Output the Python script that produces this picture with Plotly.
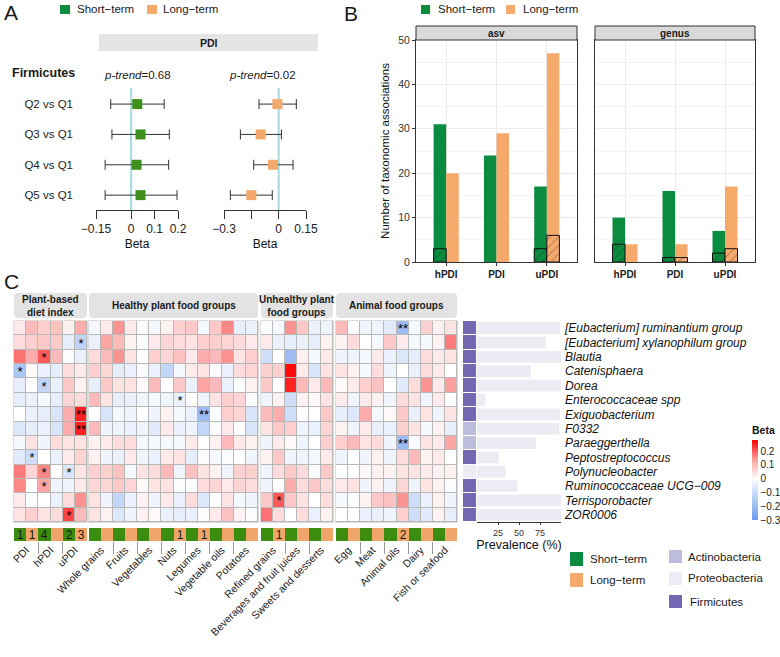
import plotly.graph_objects as go

W, H = 780, 657
FONT = "Arial, Liberation Sans, sans-serif"

# ---------------- Panel A data ----------------
quartiles = ['Q2 vs Q1', 'Q3 vs Q1', 'Q4 vs Q1', 'Q5 vs Q1']
short_beta = [0.026, 0.040, 0.023, 0.040]
short_lo = [-0.087, -0.082, -0.111, -0.111]
short_hi = [0.141, 0.163, 0.160, 0.196]
long_beta = [-0.007, -0.099, -0.031, -0.150]
long_lo = [-0.108, -0.210, -0.137, -0.265]
long_hi = [0.097, 0.015, 0.079, -0.035]
p_trend = ['0.68', '0.02']

# ---------------- Panel B data ----------------
indices = ['hPDI', 'PDI', 'uPDI']
asv_short = [31, 24, 17]
asv_long = [20, 29, 47]
asv_short_hatch = [3, 0, 3]
asv_long_hatch = [0, 0, 6]
genus_short = [10, 16, 7]
genus_long = [4, 4, 17]
genus_short_hatch = [4, 1, 2]
genus_long_hatch = [0, 1, 3]

# ---------------- Panel C data ----------------
taxa = ['[Eubacterium] ruminantium group', '[Eubacterium] xylanophilum group', 'Blautia',
        'Catenisphaera', 'Dorea', 'Enterococcaceae spp', 'Exiguobacterium', 'F0332',
        'Paraeggerthella', 'Peptostreptococcus', 'Polynucleobacter',
        'Ruminococcaceae UCG\u2212009', 'Terrisporobacter', 'ZOR0006']
phylum = ['Firmicutes', 'Firmicutes', 'Firmicutes', 'Firmicutes', 'Firmicutes', 'Firmicutes',
          'Firmicutes', 'Actinobacteria', 'Actinobacteria', 'Firmicutes', 'Proteobacteria',
          'Firmicutes', 'Firmicutes', 'Firmicutes']
prevalence = [99, 82, 100, 64, 100, 10, 99, 98, 70, 26, 34, 48, 100, 100]

group_titles = ['Plant-based<br>diet index', 'Healthy plant food groups',
                'Unhealthy plant<br>food groups', 'Animal food groups']
foods_index = ['PDI', 'hPDI', 'uPDI']
foods_healthy = ['Whole grains', 'Fruits', 'Vegetables', 'Nuts', 'Legumes', 'Vegetable oils', 'Potatoes']
foods_unhealthy = ['Refined grains', 'Beverages and fruit juices', 'Sweets and desserts']
foods_animal = ['Egg', 'Meat', 'Animal oils', 'Dairy', 'Fish or seafood']

# columns: each food -> [Short-term, Long-term]
beta_index = [
    [0.03, 0.10, 0.07, 0.09, 0.02, 0.12],
    [0.05, 0.07, 0.08, 0.08, -0.05, -0.13],
    [0.18, 0.12, 0.20, 0.10, -0.01, -0.04],
    [-0.17, 0.01, -0.04, -0.05, 0.05, 0.03],
    [-0.05, 0.00, -0.12, -0.04, 0.08, 0.02],
    [-0.05, -0.04, -0.02, -0.05, 0.06, 0.05],
    [0.00, -0.04, -0.05, -0.08, 0.12, 0.25],
    [-0.07, -0.05, -0.04, -0.08, 0.12, 0.25],
    [-0.02, 0.04, -0.03, 0.05, 0.04, 0.04],
    [-0.06, -0.10, 0.00, -0.04, 0.03, 0.06],
    [0.17, 0.06, 0.16, 0.00, -0.08, 0.04],
    [0.16, 0.00, 0.13, -0.03, -0.03, 0.03],
    [0.03, -0.01, 0.00, -0.04, 0.05, 0.15],
    [0.04, 0.07, 0.04, 0.05, 0.22, 0.10],
]
beta_healthy = [
    [-0.02, 0.03, 0.15, 0.03, -0.01, -0.02, 0.02, 0.07, 0.08, -0.02, 0.08, 0.16, -0.05, -0.04],
    [-0.04, 0.13, 0.10, 0.02, -0.01, 0.03, 0.06, 0.05, 0.04, 0.07, 0.07, 0.06, 0.05, 0.03],
    [0.05, 0.10, 0.15, 0.04, 0.00, 0.07, 0.06, 0.09, 0.03, 0.12, 0.10, 0.15, 0.04, 0.07],
    [0.07, 0.06, -0.05, -0.04, -0.01, -0.04, -0.12, -0.02, 0.03, 0.04, -0.01, -0.04, 0.05, 0.06],
    [-0.05, 0.08, 0.04, 0.04, 0.01, 0.10, 0.00, 0.08, -0.04, 0.13, 0.10, -0.04, -0.01, 0.02],
    [0.10, 0.04, -0.05, -0.04, -0.03, -0.02, -0.03, -0.04, 0.00, -0.03, 0.04, 0.07, 0.06, -0.01],
    [0.00, -0.08, -0.02, -0.03, 0.00, -0.03, 0.02, -0.02, -0.04, -0.20, -0.01, 0.07, 0.06, -0.08],
    [0.10, -0.03, -0.03, -0.04, -0.03, -0.06, 0.03, -0.04, -0.03, -0.12, -0.01, 0.03, 0.00, -0.08],
    [0.02, 0.03, 0.05, 0.05, -0.02, -0.02, -0.02, -0.02, 0.03, 0.00, 0.02, 0.10, 0.03, 0.02],
    [0.02, -0.03, -0.04, 0.03, -0.03, -0.04, 0.03, 0.04, -0.05, -0.01, -0.02, -0.01, 0.00, -0.03],
    [0.07, 0.07, 0.09, -0.02, 0.04, 0.05, 0.10, -0.03, 0.09, 0.04, 0.02, -0.03, 0.07, 0.07],
    [0.06, 0.06, 0.08, 0.06, 0.01, 0.04, 0.04, -0.01, 0.00, 0.05, 0.06, 0.03, 0.06, 0.05],
    [0.04, -0.03, -0.12, -0.04, 0.02, -0.03, 0.03, -0.04, 0.05, -0.07, 0.00, 0.04, -0.02, -0.03],
    [0.04, 0.02, -0.07, -0.03, 0.02, 0.01, -0.04, -0.05, -0.04, -0.01, 0.03, 0.09, 0.02, -0.01],
]
beta_unhealthy = [
    [-0.01, -0.02, 0.15, 0.08, -0.04, -0.03],
    [0.03, -0.04, -0.05, -0.04, -0.05, 0.02],
    [-0.10, 0.00, -0.20, 0.02, -0.02, 0.03],
    [0.07, 0.07, 0.27, 0.03, -0.08, 0.04],
    [0.08, 0.00, 0.25, 0.10, 0.03, 0.10],
    [-0.03, 0.02, -0.10, 0.02, 0.01, 0.04],
    [0.10, 0.12, -0.10, 0.00, 0.00, 0.08],
    [0.04, 0.08, 0.07, -0.03, -0.04, 0.06],
    [-0.03, 0.03, 0.01, -0.03, 0.00, 0.07],
    [0.02, 0.08, -0.03, -0.03, -0.02, 0.03],
    [-0.03, 0.05, 0.08, 0.05, -0.01, 0.08],
    [-0.03, 0.00, 0.12, 0.05, 0.08, 0.05],
    [0.08, 0.20, 0.08, 0.04, 0.00, 0.05],
    [0.18, 0.05, 0.00, 0.05, -0.04, 0.02],
]
beta_animal = [
    [0.10, 0.00, -0.03, -0.03, -0.06, -0.20, -0.02, 0.07, 0.02, 0.04],
    [0.02, 0.05, 0.00, -0.02, 0.08, 0.03, -0.02, -0.02, 0.02, 0.17],
    [-0.03, -0.03, -0.02, 0.03, -0.04, -0.07, -0.05, 0.05, 0.03, 0.04],
    [0.04, 0.02, -0.02, 0.05, -0.03, 0.00, -0.04, 0.05, 0.03, 0.00],
    [0.01, 0.03, 0.07, 0.09, 0.00, -0.06, 0.05, 0.15, 0.03, 0.14],
    [0.03, -0.03, 0.03, 0.02, -0.03, 0.05, 0.04, -0.03, 0.03, 0.00],
    [-0.05, -0.07, 0.12, -0.02, 0.01, 0.08, -0.04, 0.04, -0.03, 0.04],
    [0.02, -0.03, 0.03, -0.04, -0.04, 0.07, 0.04, -0.02, 0.02, -0.05],
    [0.07, 0.10, 0.04, 0.05, -0.03, -0.20, -0.01, 0.04, 0.03, 0.13],
    [-0.03, 0.00, -0.03, 0.02, -0.03, 0.05, 0.10, 0.02, 0.03, 0.00],
    [0.00, 0.00, 0.01, 0.02, 0.02, 0.04, 0.04, 0.03, 0.02, 0.02],
    [0.03, 0.04, -0.03, 0.02, -0.03, 0.06, -0.03, 0.04, 0.02, -0.01],
    [-0.02, -0.01, 0.02, 0.08, 0.09, 0.15, -0.10, -0.04, 0.02, -0.03],
    [0.00, 0.00, -0.04, -0.04, -0.03, 0.07, -0.10, -0.06, 0.02, -0.05],
]
# significance marks: (taxon row, column within block, mark)
stars_index = [(1, 5, '*'), (2, 2, '*'), (3, 0, '*'), (4, 2, '*'), (6, 5, '**'), (7, 5, '**'),
               (9, 1, '*'), (10, 2, '*'), (10, 4, '*'), (11, 2, '*'), (13, 4, '*')]
stars_healthy = [(5, 7, '*'), (6, 9, '**')]
stars_unhealthy = [(12, 1, '*')]
stars_animal = [(0, 5, '**'), (8, 5, '**')]

# ---------------- colours ----------------
GREEN = '#0B8B3F'
ORANGE = '#F5A96A'
GREEN_PT = '#3F8F1C'
ORANGE_PT = '#F3A86D'
ANN_GREEN = '#3C8C10'
ANN_ORANGE = '#F0A66A'
PHY_COL = {'Firmicutes': '#7467B1', 'Actinobacteria': '#BDBCDC', 'Proteobacteria': '#EDECF5'}
ZMIN, ZMAX = -0.3, 0.28
z0 = -ZMIN / (ZMAX - ZMIN)
CSCALE = [[0, '#6A9BEE'], [z0 * 0.5, '#B5CCF5'], [z0, '#FFFFFF'],
          [z0 + (1 - z0) * 0.5, '#FB9E9E'], [1, '#FF0000']]


def xdom(a, b):
    return [a / W, b / W]


def ydom(a, b):
    return [1 - b / H, 1 - a / H]


def PX(x):
    return x / W


def PY(y):
    return 1 - y / H


fig = go.Figure()
shapes = []
annots = []


def text(x, y, s, size=11, xanchor='left', bold=False, color='#1A1A1A'):
    annots.append(dict(x=PX(x), y=PY(y), xref='paper', yref='paper', text=(f'<b>{s}</b>' if bold else s),
                       showarrow=False, xanchor=xanchor, yanchor='middle',
                       font=dict(size=size, color=color, family=FONT)))


def square(x0, y0, x1, y1, color):
    shapes.append(dict(type='rect', xref='paper', yref='paper', x0=PX(x0), x1=PX(x1), y0=PY(y1), y1=PY(y0),
                       fillcolor=color, line=dict(width=0)))


def rrect(x0, y0, x1, y1, r, fill, line=None):
    f = lambda x, y: f"{x / W:.5f},{1 - y / H:.5f}"
    p = ("M" + f(x0 + r, y0) + " L" + f(x1 - r, y0) + " Q" + f(x1, y0) + " " + f(x1, y0 + r) +
         " L" + f(x1, y1 - r) + " Q" + f(x1, y1) + " " + f(x1 - r, y1) + " L" + f(x0 + r, y1) +
         " Q" + f(x0, y1) + " " + f(x0, y1 - r) + " L" + f(x0, y0 + r) + " Q" + f(x0, y0) + " " +
         f(x0 + r, y0) + " Z")
    shapes.append(dict(type='path', path=p, xref='paper', yref='paper', fillcolor=fill,
                       line=dict(width=0) if line is None else line, layer='below'))


# ================= Panel A =================
for ax, vals, lo, hi, col in [('', short_beta, short_lo, short_hi, GREEN_PT),
                              ('2', long_beta, long_lo, long_hi, ORANGE_PT)]:
    fig.add_trace(go.Scatter(
        x=vals, y=quartiles, mode='markers',
        marker=dict(symbol='square', size=10, color=col, line=dict(width=0)),
        error_x=dict(type='data', symmetric=False,
                     array=[h - v for h, v in zip(hi, vals)],
                     arrayminus=[v - l for v, l in zip(vals, lo)],
                     color='#333333', thickness=1, width=5),
        xaxis='x' + ax, yaxis='y' + ax, hoverinfo='skip'))
    shapes.append(dict(type='line', xref='x' + ax, yref=('y' + ax) + ' domain', x0=0, x1=0, y0=0, y1=1,
                       line=dict(color='#A6D8DC', width=2), layer='below'))

ya_common = dict(type='category', categoryorder='array', categoryarray=quartiles, range=[3.49, -0.53],
                 showgrid=False, zeroline=False, showline=False, ticks='', automargin=False)
fig.update_layout(
    xaxis=dict(domain=xdom(96, 178), anchor='y', range=[-0.15, 0.2], tickvals=[-0.15, 0, 0.1, 0.2],
               ticktext=['\u22120.15', '0', '0.1', '0.2'], ticks='outside', ticklen=8, tickcolor='#333',
               showline=True, linecolor='#333', showgrid=False, zeroline=False, automargin=False,
               tickfont=dict(size=12, color='#222'),
               title=dict(text='Beta', font=dict(size=12, color='#111'), standoff=4)),
    yaxis=dict(domain=ydom(88, 210), anchor='x', showticklabels=True, tickfont=dict(size=11.5, color='#222'),
               ticklabelstandoff=22, **ya_common),
    xaxis2=dict(domain=xdom(224, 306), anchor='y2', range=[-0.3, 0.15], tickvals=[-0.3, -0.15, 0, 0.15],
                ticktext=['\u22120.3', '', '0', '0.15'], ticks='outside', ticklen=8, tickcolor='#333',
                showline=True, linecolor='#333', showgrid=False, zeroline=False, automargin=False,
                tickfont=dict(size=12, color='#222'),
                title=dict(text='Beta', font=dict(size=12, color='#111'), standoff=4)),
    yaxis2=dict(domain=ydom(88, 210), anchor='x2', showticklabels=False, **ya_common),
)
text(2, 12, 'A', size=21)
square(60, 5, 70, 14, GREEN)
text(75, 9.5, 'Short\u2212term', size=11.5)
square(147, 5, 157, 14, ORANGE)
text(161, 9.5, 'Long\u2212term', size=11.5)
shapes.append(dict(type='rect', xref='paper', yref='paper', x0=PX(99), x1=PX(318), y0=PY(51), y1=PY(34),
                   fillcolor='#E5E5E5', line=dict(width=0), layer='below'))
text(208.5, 42.5, 'PDI', size=10.5, xanchor='center', bold=True)
text(10, 73, 'Firmicutes', size=12.5, bold=True)
text(137, 75, f'<i>p\u2011trend</i>={p_trend[0]}', size=11.5, xanchor='center')
text(262, 75, f'<i>p\u2011trend</i>={p_trend[1]}', size=11.5, xanchor='center')

# ================= Panel B =================
def nz(v):
    return [x if x else None for x in v]


for ax, s, l, sh, lh in [('3', asv_short, asv_long, asv_short_hatch, asv_long_hatch),
                         ('4', genus_short, genus_long, genus_short_hatch, genus_long_hatch)]:
    fig.add_trace(go.Bar(x=indices, y=s, offset=-0.25, width=0.25, marker=dict(color=GREEN, line=dict(width=0)),
                         xaxis='x' + ax, yaxis='y' + ax, hoverinfo='skip'))
    fig.add_trace(go.Bar(x=indices, y=l, offset=0, width=0.25, marker=dict(color=ORANGE, line=dict(width=0)),
                         xaxis='x' + ax, yaxis='y' + ax, hoverinfo='skip'))
    fig.add_trace(go.Bar(x=indices, y=nz(sh), offset=-0.25, width=0.25,
                         marker=dict(color=GREEN, line=dict(color='#111', width=1),
                                     pattern=dict(shape='/', fgcolor='#111', size=6, solidity=0.12)),
                         xaxis='x' + ax, yaxis='y' + ax, hoverinfo='skip'))
    fig.add_trace(go.Bar(x=indices, y=nz(lh), offset=0, width=0.25,
                         marker=dict(color=ORANGE, line=dict(color='#111', width=1),
                                     pattern=dict(shape='/', fgcolor='#111', size=6, solidity=0.12)),
                         xaxis='x' + ax, yaxis='y' + ax, hoverinfo='skip'))

xb_common = dict(type='category', categoryorder='array', categoryarray=indices, range=[-0.6, 2.6],
                 tickvals=indices, ticktext=[f'<b>{c}</b>' for c in indices], showgrid=True,
                 gridcolor='#EBEBEB', ticks='outside', ticklen=3, tickcolor='#333', showline=True,
                 mirror=True, linecolor='#333', linewidth=1, zeroline=False, automargin=False,
                 tickfont=dict(size=10, color='#222'))
yb_common = dict(range=[0, 50], dtick=10, showgrid=True, gridcolor='#EBEBEB', zeroline=False,
                 minor=dict(dtick=5, showgrid=True, gridcolor='#F4F4F4'), automargin=False,
                 showline=True, mirror=True, linecolor='#333', linewidth=1)
fig.update_layout(
    barmode='overlay',
    xaxis3=dict(domain=xdom(416, 577), anchor='y3', **xb_common),
    yaxis3=dict(domain=ydom(40, 262), anchor='x3', ticks='outside', ticklen=3, tickcolor='#333',
                tickfont=dict(size=10.5, color='#333'),
                title=dict(text='Number of taxonomic associations', font=dict(size=11.5, color='#111'),
                           standoff=6), **yb_common),
    xaxis4=dict(domain=xdom(595, 755), anchor='y4', **xb_common),
    yaxis4=dict(domain=ydom(40, 262), anchor='x4', ticks='', showticklabels=False, **yb_common),
)
text(342, 13, 'B', size=21)
square(421, 5, 430, 14, GREEN)
text(436, 9.5, 'Short\u2212term', size=11.5)
square(506, 5, 515, 14, ORANGE)
text(521, 9.5, 'Long\u2212term', size=11.5)
for (a, b, lab) in [(416, 577, 'asv'), (595, 755, 'genus')]:
    shapes.append(dict(type='rect', xref='paper', yref='paper', x0=PX(a), x1=PX(b), y0=PY(40), y1=PY(26),
                       fillcolor='#D9D9D9', line=dict(color='#333', width=1)))
    text((a + b) / 2, 33.5, lab, size=10, xanchor='center', bold=True)

# ================= Panel C =================
blocks = [
    (foods_index, beta_index, stars_index, 14, 87),
    (foods_healthy, beta_healthy, stars_healthy, 89, 258),
    (foods_unhealthy, beta_unhealthy, stars_unhealthy, 261, 333),
    (foods_animal, beta_animal, stars_animal, 336, 457),
]
HT, HB = 321, 522
layout_axes = {}
for bi, (foods, beta, stars, xa, xb) in enumerate(blocks):
    n = 2 * len(foods)
    axn = str(5 + bi)
    star_txt = [['' for _ in range(n)] for _ in taxa]
    counts = [0] * n
    for r, c, m in stars:
        star_txt[r][c] = m
        counts[c] += 1
    shapes.append(dict(type='rect', xref='paper', yref='paper', x0=PX(xa - 0.5), x1=PX(xb + 0.5),
                       y0=PY(HB + 0.5), y1=PY(HT - 0.5), fillcolor='#B8B8B8', line=dict(width=0),
                       layer='below'))
    cb = None
    if bi == 0:
        cb = dict(x=PX(752), xanchor='left', xpad=0, ypad=0, y=PY(471.5), yanchor='middle',
                  len=97 / H, lenmode='fraction', thickness=6, outlinewidth=0, ticks='',
                  tickvals=[-0.3, -0.2, -0.1, 0, 0.1, 0.2],
                  ticktext=['\u22120.3', '\u22120.2', '\u22120.1', '0', '0.1', '0.2'],
                  tickfont=dict(size=10, color='#222'),
                  title=dict(text='<b>Beta</b>', side='top', font=dict(size=10.5, color='#111')))
    fig.add_trace(go.Heatmap(z=beta, x=list(range(n)), y=taxa, colorscale=CSCALE, zmin=ZMIN, zmax=ZMAX,
                             xgap=1, ygap=1, text=star_txt, texttemplate='%{text}',
                             textfont=dict(size=13, color='black'), showscale=(bi == 0), colorbar=cb,
                             xaxis='x' + axn, yaxis='y5', hoverinfo='skip'))
    # term annotation bar with significant counts
    fig.add_trace(go.Heatmap(z=[[i % 2 for i in range(n)]], x=list(range(n)), y=['term'],
                             colorscale=[[0, ANN_GREEN], [0.5, ANN_GREEN], [0.5, ANN_ORANGE], [1, ANN_ORANGE]],
                             zmin=0, zmax=1, showscale=False,
                             text=[[str(c) if c else '' for c in counts]], texttemplate='%{text}',
                             textfont=dict(size=12, color='#1A1A1A'),
                             xaxis='x' + axn, yaxis='y6', hoverinfo='skip'))
    layout_axes['xaxis' + axn] = dict(
        domain=xdom(xa, xb), anchor='y6', range=[-0.5, n - 0.5], automargin=False,
        tickvals=[2 * k + 0.5 for k in range(len(foods))], ticktext=foods, tickangle=-45, ticks='',
        tickfont=dict(size=10.5, color='#222'), showgrid=False, zeroline=False, showline=False,
        minor=dict(tickvals=[2 * k + 1.5 for k in range(len(foods) - 1)], ticks='outside', ticklen=12,
                   tickcolor='#999', tickwidth=1, showgrid=False))
    rrect(xa, 293, xb, 318, 4, '#E3E3E3')
    text((xa + xb) / 2, 305.5, group_titles[bi], size=10, xanchor='center', bold=True)

layout_axes['yaxis5'] = dict(domain=ydom(HT, HB), anchor='x5', type='category', categoryorder='array',
                             categoryarray=taxa, range=[13.5, -0.5], showticklabels=False, showgrid=False,
                             zeroline=False, automargin=False)
layout_axes['yaxis6'] = dict(domain=ydom(528, 541), anchor='x5', showticklabels=False, showgrid=False,
                             zeroline=False, automargin=False)

# phylum strip
phy_names = ['Firmicutes', 'Actinobacteria', 'Proteobacteria']
fig.add_trace(go.Heatmap(z=[[phy_names.index(p)] for p in phylum], x=[0], y=taxa,
                         colorscale=[[0, PHY_COL['Firmicutes']], [0.33, PHY_COL['Firmicutes']],
                                     [0.33, PHY_COL['Actinobacteria']], [0.67, PHY_COL['Actinobacteria']],
                                     [0.67, PHY_COL['Proteobacteria']], [1, PHY_COL['Proteobacteria']]],
                         zmin=0, zmax=2, showscale=False, ygap=1, xaxis='x9', yaxis='y5', hoverinfo='skip'))
layout_axes['xaxis9'] = dict(domain=xdom(463, 476), anchor='y5', range=[-0.5, 0.5], visible=False,
                             automargin=False)

# prevalence bars
fig.add_trace(go.Bar(y=taxa, x=prevalence, orientation='h', width=0.82,
                     marker=dict(color='#ECEBF4', line=dict(width=0)),
                     xaxis='x10', yaxis='y7', hoverinfo='skip'))
layout_axes['xaxis10'] = dict(domain=xdom(477, 561), anchor='y7', range=[0, 100], tickvals=[25, 50, 75],
                              ticks='outside', ticklen=2, tickcolor='#333', showline=True, linecolor='#333',
                              showgrid=False, zeroline=False, tickfont=dict(size=9, color='#333'),
                              automargin=False,
                              title=dict(text='Prevalence (%)', font=dict(size=12.5, color='#111'), standoff=2))
layout_axes['yaxis7'] = dict(domain=ydom(HT, HB), anchor='x10', side='right', type='category',
                             categoryorder='array', categoryarray=taxa, range=[13.5, -0.5],
                             tickvals=taxa, ticktext=[f'<i>{t}</i>' for t in taxa], ticks='',
                             tickfont=dict(size=12, color='#111'), showgrid=False, zeroline=False,
                             showline=False, ticklabelstandoff=3, automargin=False)
fig.update_layout(**layout_axes)

text(2, 281, 'C', size=21)
# bottom-right legends
square(570, 552, 583, 566, GREEN)
text(588, 559, 'Short\u2212term', size=11.5)
square(570, 573, 583, 587, ORANGE)
text(588, 580, 'Long\u2212term', size=11.5)
square(669, 550, 682, 563, PHY_COL['Actinobacteria'])
text(686, 557, 'Actinobacteria', size=11.5)
square(669, 572, 682, 585, PHY_COL['Proteobacteria'])
text(686, 578, 'Proteobacteria', size=11.5)
square(669, 595, 682, 608, PHY_COL['Firmicutes'])
text(688, 602, 'Firmicutes', size=11.5)

fig.update_layout(width=W, height=H, margin=dict(l=0, r=0, t=0, b=0, autoexpand=False),
                  paper_bgcolor='white',
                  plot_bgcolor='rgba(0,0,0,0)', showlegend=False, font=dict(family=FONT, color='#1A1A1A'),
                  shapes=shapes, annotations=annots)
fig.write_html('out.html', config={'displayModeBar': False},
               post_script="document.body.style.margin='0';document.body.style.overflow='hidden';")
